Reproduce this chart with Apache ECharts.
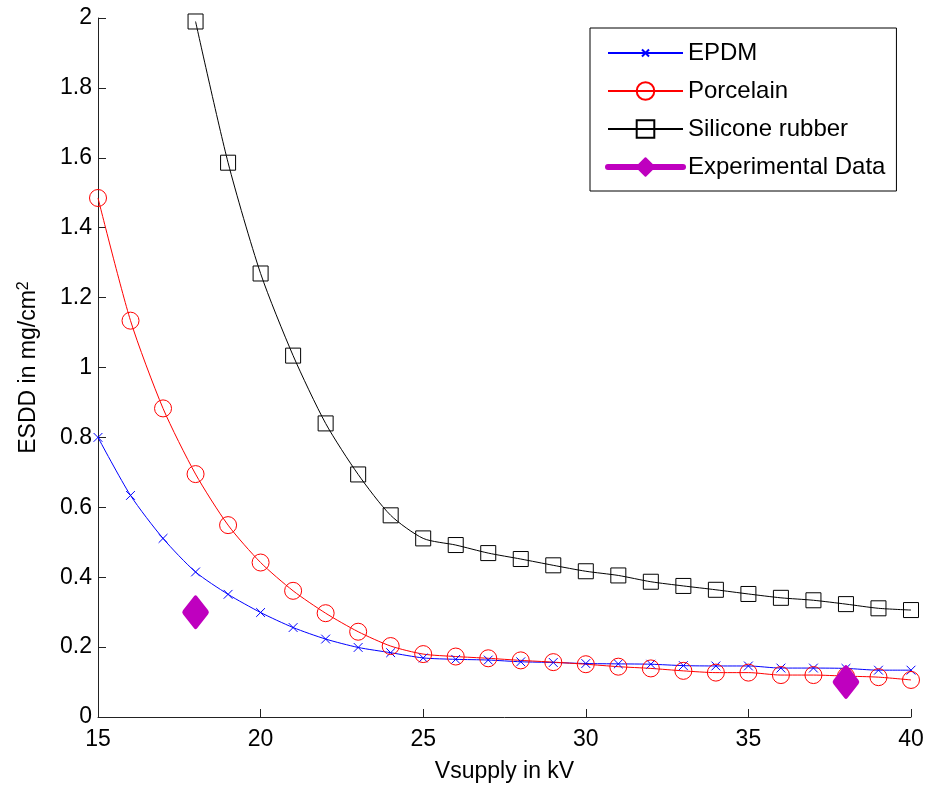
<!DOCTYPE html>
<html>
<head>
<meta charset="utf-8">
<title>ESDD vs Vsupply</title>
<script src="https://cdn.jsdelivr.net/npm/echarts@6/dist/echarts.min.js"></script>
<style>
  html, body { margin: 0; padding: 0; background: #fff; }
  #chart { width: 929px; height: 792px; }
</style>
</head>
<body>
<div id="chart"></div>
<script>
// values
const voltage = [15, 16, 17, 18, 19, 20, 21, 22, 23, 24, 25, 26, 27, 28, 29, 30, 31, 32, 33, 34, 35, 36, 37, 38, 39, 40]
const epdm = [0.80, 0.634, 0.511, 0.415, 0.351, 0.299, 0.256, 0.223, 0.199, 0.184, 0.169, 0.165, 0.163, 0.158, 0.156, 0.153, 0.152, 0.151, 0.147, 0.146, 0.146, 0.140, 0.140, 0.139, 0.134, 0.134]
const porcelain = [1.485, 1.134, 0.883, 0.695, 0.549, 0.442, 0.361, 0.297, 0.244, 0.203, 0.180, 0.173, 0.168, 0.162, 0.157, 0.151, 0.144, 0.139, 0.132, 0.127, 0.127, 0.120, 0.120, 0.117, 0.114, 0.106]
const siliconeVoltage = [18, 19, 20, 21, 22, 23, 24, 25, 26, 27, 28, 29, 30, 31, 32, 33, 34, 35, 36, 37, 38, 39, 40]
const silicone = [1.99, 1.586, 1.269, 1.034, 0.84, 0.694, 0.577, 0.511, 0.492, 0.469, 0.452, 0.434, 0.417, 0.405, 0.387, 0.375, 0.364, 0.352, 0.341, 0.334, 0.323, 0.311, 0.306]
const expVoltage = [18, 38]
const expEsdd = [0.30, 0.10]

const pairs = (xs, ys) => xs.map((x, i) => [x, ys[i]])

const font = '"Liberation Sans", Arial, sans-serif'
// the extra moveTo points pad the bounds so the cross stays small in the legend too
const crossPath = 'path://M0,0M10,10M3,3L7,7M7,3L3,7'

const chart = echarts.init(document.getElementById('chart'))

const axisCommon = {
  axisLine: { show: true, lineStyle: { color: '#222', width: 1 } },
  axisTick: { show: true, inside: true, length: 8, lineStyle: { color: '#222' } },
  splitLine: { show: false },
  axisLabel: { color: '#000', fontSize: 23, fontFamily: font },
  nameTextStyle: { color: '#000', fontSize: 23, fontFamily: font }
}

const option = {
  animation: false,
  backgroundColor: '#fff',
  grid: { left: 98, right: 18, top: 18, bottom: 75 },
  xAxis: {
    ...axisCommon,
    type: 'value',
    min: 15,
    max: 40,
    interval: 5,
    name: 'Vsupply in kV',
    nameLocation: 'middle',
    nameGap: 43,
    axisLabel: { ...axisCommon.axisLabel, margin: 11 }
  },
  yAxis: {
    ...axisCommon,
    type: 'value',
    min: 0,
    max: 2,
    interval: 0.2,
    name: '{a|ESDD in mg/cm}{s|2}',
    nameLocation: 'middle',
    nameRotate: 90,
    nameGap: 56,
    nameTextStyle: {
      ...axisCommon.nameTextStyle,
      rich: {
        a: { fontSize: 23, fontFamily: font, color: '#000' },
        s: { fontSize: 16, fontFamily: font, color: '#000', verticalAlign: 'top', padding: [0, 0, 10, 0] }
      }
    },
    axisLabel: { ...axisCommon.axisLabel, margin: 6 }
  },
  legend: {
    orient: 'vertical',
    left: 590,
    top: 28,
    padding: [13, 11, 12, 15],
    itemWidth: 75,
    itemHeight: 22,
    itemGap: 14,
    borderColor: '#000',
    borderWidth: 1,
    backgroundColor: '#fff',
    textStyle: { fontSize: 24, fontFamily: font, color: '#000' },
    data: [
      { name: 'EPDM' },
      { name: 'Porcelain' },
      { name: 'Silicone rubber' },
      { name: 'Experimental Data', lineStyle: { width: 6, opacity: 1, color: '#BF00BF', cap: 'round' } }
    ]
  },
  series: [
    {
      name: 'EPDM',
      type: 'line',
      data: pairs(voltage, epdm),
      smooth: 0.25,
      symbol: crossPath,
      symbolSize: 22,
      showAllSymbol: true,
      lineStyle: { color: '#0000ff', width: 1 },
      itemStyle: { color: '#0000ff', borderColor: '#0000ff', borderWidth: 1 }
    },
    {
      name: 'Porcelain',
      type: 'line',
      data: pairs(voltage, porcelain),
      smooth: 0.25,
      symbol: 'circle',
      symbolSize: 17,
      showAllSymbol: true,
      lineStyle: { color: '#ff0000', width: 1 },
      itemStyle: { color: 'rgba(0,0,0,0)', borderColor: '#ff0000', borderWidth: 1 }
    },
    {
      name: 'Silicone rubber',
      type: 'line',
      data: pairs(siliconeVoltage, silicone),
      smooth: 0.25,
      symbol: 'rect',
      symbolSize: 15,
      showAllSymbol: true,
      lineStyle: { color: '#000000', width: 1 },
      itemStyle: { color: 'rgba(0,0,0,0)', borderColor: '#000000', borderWidth: 1 }
    },
    {
      name: 'Experimental Data',
      type: 'line',
      data: pairs(expVoltage, expEsdd),
      symbol: 'diamond',
      symbolSize: [22, 28],
      showAllSymbol: true,
      lineStyle: { color: '#BF00BF', width: 6, opacity: 0 },
      itemStyle: { color: '#BF00BF', borderColor: '#BF00BF', borderWidth: 5, borderJoin: 'round' }
    }
  ]
}

chart.setOption(option)
</script>
</body>
</html>
